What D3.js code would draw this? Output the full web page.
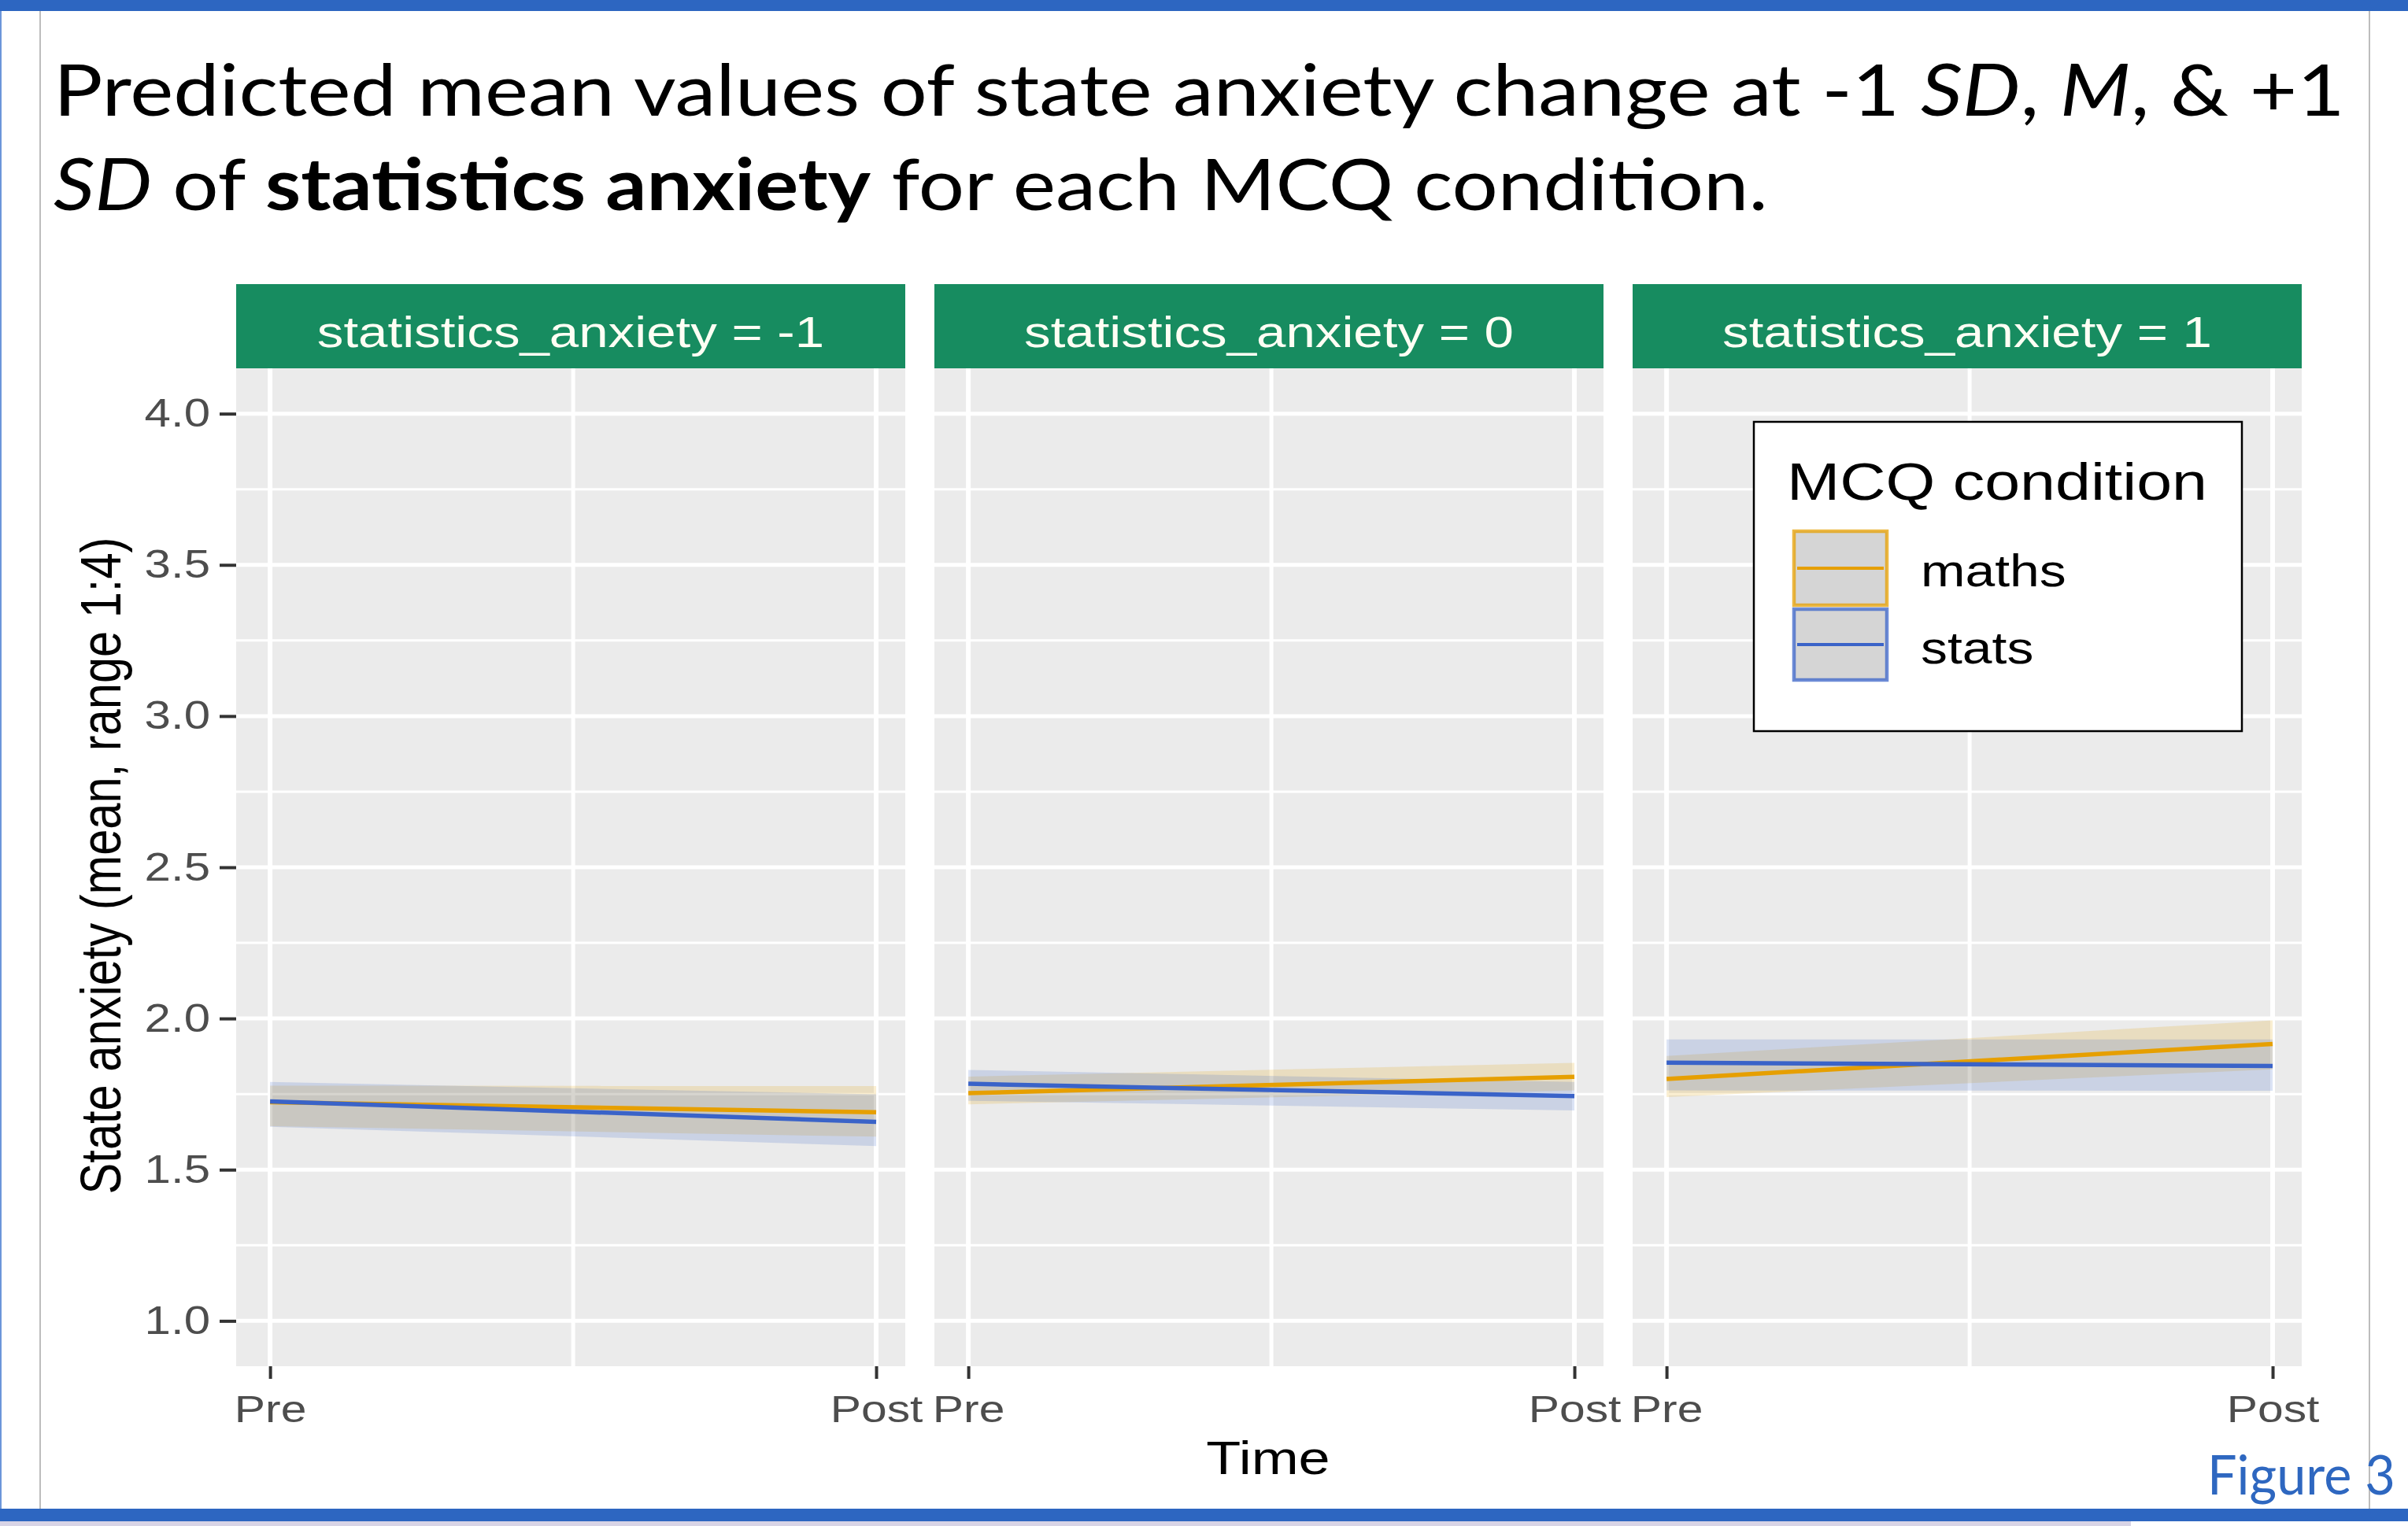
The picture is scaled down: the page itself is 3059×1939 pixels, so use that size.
<!DOCTYPE html>
<html>
<head>
<meta charset="utf-8">
<script src="https://cdn.jsdelivr.net/npm/d3@7"></script>
<style>
  html, body { margin: 0; padding: 0; background: #ffffff; }
  svg { display: block; }
</style>
</head>
<body>
<svg id="chart" width="3059" height="1939"></svg>
<script>
// ---- data -------------------------------------------------------------
const facetLabels = ["statistics_anxiety = -1", "statistics_anxiety = 0", "statistics_anxiety = 1"];
const timeLabels  = ["Pre", "Post"];
const timeValues  = [0, 1];
const conditions  = ["maths", "stats"];

// predicted means and 95% band per facet: [Pre, Post]
const mathsFit  = [[1.723, 1.690], [1.753, 1.807], [1.800, 1.916]];
const mathsLow  = [[1.644, 1.609], [1.716, 1.762], [1.740, 1.832]];
const mathsHigh = [[1.778, 1.777], [1.808, 1.853], [1.876, 1.994]];
const statsFit  = [[1.726, 1.658], [1.784, 1.743], [1.854, 1.843]];
const statsLow  = [[1.642, 1.578], [1.728, 1.696], [1.762, 1.761]];
const statsHigh = [[1.790, 1.749], [1.830, 1.790], [1.931, 1.931]];

const yTicks      = [1.0, 1.5, 2.0, 2.5, 3.0, 3.5, 4.0];
const yMinorTicks = [1.25, 1.75, 2.25, 2.75, 3.25, 3.75];
const xMinorTicks = [0.5];

const series = {
  maths: { fit: mathsFit, low: mathsLow, high: mathsHigh },
  stats: { fit: statsFit, low: statsLow, high: statsHigh }
};

// ---- helpers ----------------------------------------------------------
const SX = 1.2; // horizontal stretch of the plot lettering
function stretch(sel, sx) {
  sel.each(function () {
    const w = this.getComputedTextLength();
    this.setAttribute("textLength", w * sx);
    this.setAttribute("lengthAdjust", "spacingAndGlyphs");
  });
}
function toWidth(sel, target) {
  sel.each(function () {
    this.setAttribute("textLength", target);
    this.setAttribute("lengthAdjust", "spacingAndGlyphs");
  });
}
function fitWidth(node, x0, target) {
  const w = node.getBBox().width;
  const k = target / w;
  node.setAttribute("transform", `translate(${x0},0) scale(${k},1) translate(${-x0},0)`);
}

const svg = d3.select("#chart");
const W = 3059, H = 1939;
const plotFont = "'Liberation Sans', Arial, sans-serif";
const slideFont = "Lato, 'Open Sans', sans-serif";

// ---- slide frame ------------------------------------------------------
svg.append("rect").attr("x", 0).attr("y", 0).attr("width", W).attr("height", H).attr("fill", "#ffffff");
svg.append("rect").attr("x", 0).attr("y", 0).attr("width", 2).attr("height", H).attr("fill", "#6C96DA");
svg.append("line").attr("x1", 51).attr("x2", 51).attr("y1", 14).attr("y2", 1917)
  .attr("stroke", "#BDBDBD").attr("stroke-width", 2);
svg.append("line").attr("x1", 3010).attr("x2", 3010).attr("y1", 14).attr("y2", 1917)
  .attr("stroke", "#BDBDBD").attr("stroke-width", 2);
svg.append("rect").attr("x", 0).attr("y", 0).attr("width", W).attr("height", 14).attr("fill", "#2D66C1");
svg.append("rect").attr("x", 0).attr("y", 1917).attr("width", W).attr("height", 16).attr("fill", "#2D66C1");
svg.append("rect").attr("x", 0).attr("y", 1933).attr("width", 2707).attr("height", 6).attr("fill", "#D8D4E6");

// ---- slide title ------------------------------------------------------
const t1 = svg.append("text").attr("x", 68).attr("y", 147)
  .attr("font-family", slideFont).attr("font-size", 91).attr("fill", "#000");
t1.append("tspan").text("Predicted mean values of state anxiety change at -1 ");
t1.append("tspan").attr("font-style", "italic").text("SD");
t1.append("tspan").text(", ");
t1.append("tspan").attr("font-style", "italic").text("M");
t1.append("tspan").text(", & +1");
fitWidth(t1.node(), 68, 2911);

const t2 = svg.append("text").attr("x", 68).attr("y", 267)
  .attr("font-family", slideFont).attr("font-size", 91).attr("fill", "#000");
t2.append("tspan").attr("font-style", "italic").text("SD");
t2.append("tspan").text(" of ");
t2.append("tspan").attr("font-weight", "bold").text("statistics anxiety");
t2.append("tspan").text(" for each MCQ condition.");
fitWidth(t2.node(), 68, 2178);

// ---- scales -----------------------------------------------------------
const panelW = 850, panelGap = 37, panelX0 = 300;
const stripTop = 361, plotTop = 468, plotBottom = 1736;

const y = d3.scaleLinear().domain([0.85, 4.15]).range([plotBottom, plotTop]);
const x = d3.scaleLinear().domain([-0.056, 1.048]).range([0, panelW]);
const color = d3.scaleOrdinal().domain(conditions).range(["#E69F00", "#3A63C8"]);

const area = d3.area().x(d => x(d.t)).y0(d => y(d.low)).y1(d => y(d.high));
const line = d3.line().x(d => x(d.t)).y(d => y(d.fit));

// ---- facets -----------------------------------------------------------
facetLabels.forEach((lab, i) => {
  const g = svg.append("g").attr("transform", `translate(${panelX0 + i * (panelW + panelGap)},0)`);

  g.append("rect").attr("x", 0).attr("y", plotTop).attr("width", panelW)
    .attr("height", plotBottom - plotTop).attr("fill", "#EBEBEB");

  // minor grid
  g.selectAll(".ymin").data(yMinorTicks).join("line")
    .attr("x1", 0).attr("x2", panelW).attr("y1", d => y(d)).attr("y2", d => y(d))
    .attr("stroke", "#ffffff").attr("stroke-width", 3);
  g.selectAll(".xmin").data(xMinorTicks).join("line")
    .attr("x1", d => x(d)).attr("x2", d => x(d)).attr("y1", plotTop).attr("y2", plotBottom)
    .attr("stroke", "#ffffff").attr("stroke-width", 5);
  // major grid
  g.selectAll(".ymaj").data(yTicks).join("line")
    .attr("x1", 0).attr("x2", panelW).attr("y1", d => y(d)).attr("y2", d => y(d))
    .attr("stroke", "#ffffff").attr("stroke-width", 5);
  g.selectAll(".xmaj").data(timeValues).join("line")
    .attr("x1", d => x(d)).attr("x2", d => x(d)).attr("y1", plotTop).attr("y2", plotBottom)
    .attr("stroke", "#ffffff").attr("stroke-width", 6);

  // confidence ribbons
  conditions.forEach(c => {
    const s = series[c];
    const pts = timeValues.map((t, k) => ({ t, fit: s.fit[i][k], low: s.low[i][k], high: s.high[i][k] }));
    g.append("path").datum(pts).attr("d", area)
      .attr("fill", color(c)).attr("fill-opacity", 0.18);
  });
  // predicted lines
  conditions.forEach(c => {
    const s = series[c];
    const pts = timeValues.map((t, k) => ({ t, fit: s.fit[i][k] }));
    g.append("path").datum(pts).attr("d", line)
      .attr("fill", "none").attr("stroke", color(c)).attr("stroke-width", 5.5);
  });

  // strip
  g.append("rect").attr("x", 0).attr("y", stripTop).attr("width", panelW)
    .attr("height", plotTop - stripTop).attr("fill", "#178C60");
  const st = g.append("text").attr("x", panelW / 2).attr("y", 441)
    .attr("text-anchor", "middle").attr("font-family", plotFont).attr("font-size", 56)
    .attr("fill", "#FFFFF4").text(lab);
  stretch(st, SX);

  // x axis
  const ax = g.append("g").attr("transform", `translate(0,${plotBottom})`)
    .call(d3.axisBottom(x).tickValues(timeValues).tickFormat((d, k) => timeLabels[k])
      .tickSize(16).tickPadding(20));
  ax.select(".domain").remove();
  ax.selectAll("line").attr("stroke", "#333333").attr("stroke-width", 4);
  ax.selectAll("text").attr("font-family", plotFont).attr("font-size", 49).attr("fill", "#4D4D4D");
  stretch(ax.selectAll("text"), SX);
});

// y axis on the first facet
const ay = svg.append("g").attr("transform", `translate(${panelX0},0)`)
  .call(d3.axisLeft(y).tickValues(yTicks).tickFormat(d3.format(".1f")).tickSize(21).tickPadding(12));
ay.select(".domain").remove();
ay.selectAll("line").attr("stroke", "#333333").attr("stroke-width", 4);
ay.selectAll("text").attr("font-family", plotFont).attr("font-size", 50).attr("fill", "#4D4D4D");
stretch(ay.selectAll("text"), SX);

// axis titles
svg.append("g").attr("transform", `translate(153,1100) rotate(-90) scale(1,${SX})`)
  .append("text").attr("x", 0).attr("y", 0).attr("text-anchor", "middle")
  .attr("font-family", plotFont).attr("font-size", 59.6).attr("fill", "#000")
  .text("State anxiety (mean, range 1:4)");

const xt = svg.append("text").attr("x", 1611).attr("y", 1873).attr("text-anchor", "middle")
  .attr("font-family", plotFont).attr("font-size", 60).attr("fill", "#000").text("Time");
stretch(xt, SX);

// ---- legend -----------------------------------------------------------
const lg = svg.append("g");
lg.append("rect").attr("x", 2228).attr("y", 536).attr("width", 620).attr("height", 393)
  .attr("fill", "#ffffff").attr("stroke", "#000000").attr("stroke-width", 2.5);
const lt = lg.append("text").attr("x", 2270).attr("y", 635)
  .attr("font-family", plotFont).attr("font-size", 66).attr("fill", "#000").text("MCQ condition");
toWidth(lt, 534);

const keyX = 2279, keyW = 118, keyH = [[675, 94], [774, 90]];
conditions.forEach((c, k) => {
  const [ky, kh] = keyH[k];
  lg.append("rect").attr("x", keyX).attr("y", ky).attr("width", keyW).attr("height", kh)
    .attr("fill", "#D5D5D5").attr("stroke", color(c)).attr("stroke-opacity", 0.75).attr("stroke-width", 4.5);
  lg.append("line").attr("x1", keyX + 4).attr("x2", keyX + keyW - 4)
    .attr("y1", ky + kh / 2).attr("y2", ky + kh / 2)
    .attr("stroke", color(c)).attr("stroke-width", 4);
  const lbl = lg.append("text").attr("x", 2440).attr("y", k === 0 ? 745 : 843)
    .attr("font-family", plotFont).attr("font-size", 58).attr("fill", "#000").text(c);
  stretch(lbl, 1.17);
});

// ---- figure tag -------------------------------------------------------
const fig = svg.append("text").attr("x", 2804).attr("y", 1899)
  .attr("font-family", slideFont).attr("font-size", 70).attr("fill", "#2E67C0").text("Figure 3");
fitWidth(fig.node(), 2804, 239);
</script>
</body>
</html>
